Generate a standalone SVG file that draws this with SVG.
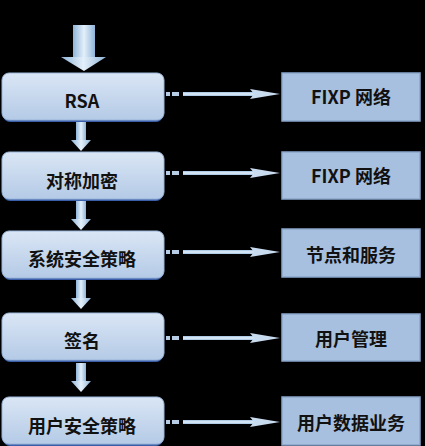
<svg xmlns="http://www.w3.org/2000/svg" width="425" height="446" viewBox="0 0 425 446">
<defs>
<linearGradient id="lg" x1="0" y1="0" x2="0" y2="1">
<stop offset="0" stop-color="#dae6f5"/>
<stop offset="1" stop-color="#b4cae6"/>
</linearGradient>
<linearGradient id="ag" x1="0" y1="0" x2="1" y2="0">
<stop offset="0" stop-color="#8fb4d8"/>
<stop offset="0.5" stop-color="#e4f0fb"/>
<stop offset="1" stop-color="#8fb4d8"/>
</linearGradient>
<linearGradient id="hg" x1="0" y1="0" x2="0" y2="1">
<stop offset="0" stop-color="#9fc0df"/>
<stop offset="0.5" stop-color="#e4f0fb"/>
<stop offset="1" stop-color="#9fc0df"/>
</linearGradient>
<g id="harrow">
<rect x="0" y="-2" width="4" height="4" fill="#b7cde6"/>
<rect x="6" y="-2" width="7" height="4" fill="#b7cde6"/>
<rect x="17" y="-2" width="80" height="4" fill="url(#hg)"/>
<path d="M84,-5 L114,0 L84,5 L88,0 Z" fill="#c9dcef"/>
</g>
<g id="varrow">
<rect x="-5" y="0" width="10" height="19" fill="url(#ag)"/>
<path d="M-10,18 L10,18 L0,29 Z" fill="url(#ag)"/>
</g>
</defs>
<style>
.lb{fill:url(#lg);stroke:#9cb6d9;stroke-width:1}
.sh{fill:#3a5fa8}
.rb{fill:#a7c0df;stroke:#8aa6cc;stroke-width:1.5}
.t{font-family:"Noto Sans CJK SC","Liberation Sans",sans-serif;font-weight:bold;font-size:18px;fill:#111;text-anchor:middle}
</style>
<rect width="425" height="446" fill="#000"/>
<g id="connectors">
<g id="start-arrow">
<rect x="73" y="25" width="22" height="34" fill="url(#ag)"/>
<path d="M61,57 L106,57 L84,71 Z" fill="url(#ag)"/>
</g>
<use href="#varrow" x="81" y="122"/>
<use href="#varrow" x="81" y="201"/>
<use href="#varrow" x="81" y="280"/>
<use href="#varrow" x="81" y="363"/>
<use href="#harrow" x="166" y="94"/>
<use href="#harrow" x="166" y="173"/>
<use href="#harrow" x="166" y="252"/>
<use href="#harrow" x="166" y="338"/>
<use href="#harrow" x="166" y="422"/>
</g>
<g id="n-rsa"><rect class="sh" x="3" y="75" width="160" height="47" rx="7"/><rect class="lb" x="2" y="73" width="162" height="47" rx="7"/><text class="t" x="82" y="108">RSA</text></g>
<g id="n-sym"><rect class="sh" x="3" y="154" width="160" height="47" rx="7"/><rect class="lb" x="2" y="152" width="162" height="47" rx="7"/><text class="t" x="82" y="188">对称加密</text></g>
<g id="n-sys"><rect class="sh" x="3" y="233" width="160" height="47" rx="7"/><rect class="lb" x="2" y="231" width="162" height="47" rx="7"/><text class="t" x="82" y="266">系统安全策略</text></g>
<g id="n-sig"><rect class="sh" x="3" y="315" width="160" height="47" rx="7"/><rect class="lb" x="2" y="313" width="162" height="47" rx="7"/><text class="t" x="82" y="348">签名</text></g>
<g id="n-usr"><rect class="sh" x="3" y="399" width="160" height="47" rx="7"/><rect class="lb" x="2" y="397" width="162" height="47" rx="7"/><text class="t" x="82" y="433">用户安全策略</text></g>
<g id="r-fixp1"><rect class="rb" x="282" y="73" width="138" height="48"/><text class="t" x="351" y="104">FIXP 网络</text></g>
<g id="r-fixp2"><rect class="rb" x="282" y="152" width="138" height="47"/><text class="t" x="351" y="183">FIXP 网络</text></g>
<g id="r-node"><rect class="rb" x="282" y="229" width="138" height="48"/><text class="t" x="351" y="262">节点和服务</text></g>
<g id="r-umgr"><rect class="rb" x="282" y="314" width="138" height="47"/><text class="t" x="351" y="346">用户管理</text></g>
<g id="r-udata"><rect class="rb" x="282" y="397" width="138" height="48"/><text class="t" x="351" y="430">用户数据业务</text></g>
</svg>
